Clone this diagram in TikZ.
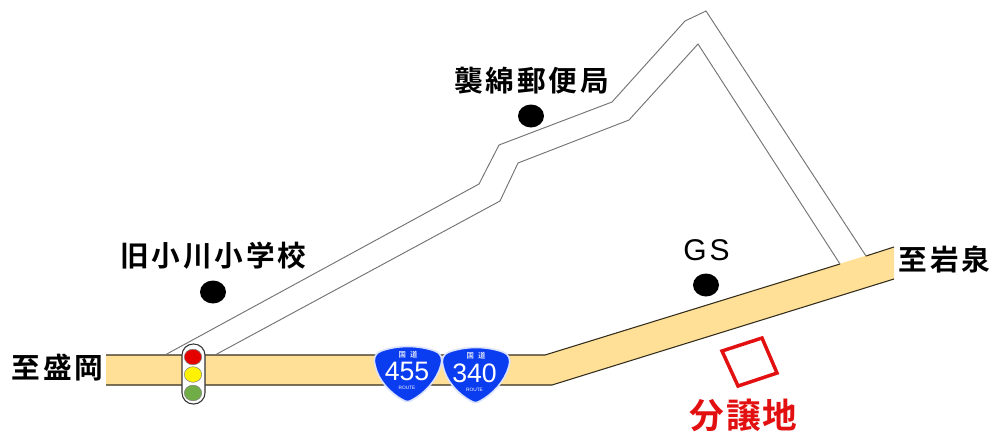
\documentclass[tikz,border=0pt]{standalone}
\usepackage{fontspec}
\setmainfont{Liberation Sans}
\newfontfamily\cjk[LetterSpace=10]{Noto Sans CJK JP Bold}
\newfontfamily\cjkb[LetterSpace=6]{Noto Sans CJK JP Bold}
\newfontfamily\cjks{Noto Sans CJK JP Medium}
\newfontfamily\latw[LetterSpace=10]{Liberation Sans}
\definecolor{roadfill}{RGB}{255,224,150}
\definecolor{shieldblue}{RGB}{10,60,240}
\definecolor{mapred}{RGB}{226,16,16}
\definecolor{siggreen}{RGB}{112,173,71}
\tikzset{
  x=0.75pt,y=-0.75pt,
  road/.style={draw=black!80!roadfill,line width=0.8pt},
  lane/.style={draw=black!55,line width=0.7pt},
  spot/.style={fill=black,draw=none},
  place/.style={inner sep=0pt,text=black,font=\cjk\fontsize{21.5pt}{23pt}\selectfont},
  shield/.style={fill=shieldblue,draw=white!85!shieldblue,line width=1.2pt},
  routenum/.style={inner sep=0pt,text=white,font=\fontsize{20pt}{21pt}\selectfont},
  routesmall/.style={inner sep=0pt,text=white,font=\fontsize{3.6pt}{4pt}\selectfont},
  routecjk/.style={inner sep=0pt,text=white,font=\cjks\fontsize{5.5pt}{6pt}\selectfont},
  lamp/.style={draw=black!50,line width=0.4pt},
}
\begin{document}
\begin{tikzpicture}
\useasboundingbox (0,0) rectangle (995,432);
\fill[white] (0,0) rectangle (995,432);
% national road
\fill[roadfill] (106,355) -- (545,355) -- (894,247) -- (894,279) -- (552,385) -- (106,385) -- cycle;
\draw[road] (106,355) -- (545,355) -- (840,264);
\draw[road] (866,256) -- (894,247);
\draw[road] (106,385) -- (552,385) -- (894,279);
% side road
\draw[lane] (165,355) -- (479,184) -- (499,145) -- (612,102) -- (685,21) -- (706,11) -- (866,256);
\draw[lane] (215,355) -- (500,201) -- (518,163) -- (629,120) -- (698,44) -- (840,264);
% spots
\fill[spot] (531,116) ellipse [x radius=13,y radius=11.5];
\fill[spot] (213,292) ellipse [x radius=13,y radius=11.5];
\fill[spot] (706,285) ellipse [x radius=13,y radius=11.5];
% signal
\draw[fill=white,line width=0.8pt,draw=black!80,rounded corners=8.4pt] (182,344) rectangle (205,404);
\fill[red!90!black,lamp] (193,357) ellipse [x radius=8.7,y radius=7.8];
\fill[yellow,lamp] (193,374.5) ellipse [x radius=8.7,y radius=7.8];
\fill[siggreen,lamp] (193,393) ellipse [x radius=8.7,y radius=7.8];
% shields
\draw[shield] (381,351) .. controls (398,345) and (418,345) .. (435,351) .. controls (441,353) and (443,359) .. (441,365) .. controls (437,380) and (425,393) .. (412,400) .. controls (409,402) and (406,402) .. (403,400) .. controls (390,393) and (378,380) .. (375,365) .. controls (373,359) and (375,353) .. (381,351) -- cycle;
\draw[shield] (449,352) .. controls (466,346) and (486,346) .. (503,352) .. controls (509,354) and (511,360) .. (509,366) .. controls (505,381) and (493,394) .. (480,401) .. controls (477,403) and (474,403) .. (471,401) .. controls (458,394) and (446,381) .. (443,366) .. controls (441,360) and (443,354) .. (449,352) -- cycle;
\node[routecjk] (kokua) at (408,354.5) {国\hspace{3pt}道};
\node[routenum] (n455) at (407,371.5) {455};
\node[routesmall] (ra) at (407,388) {ROUTE};
\node[routecjk] (kokub) at (476,356) {国\hspace{3pt}道};
\node[routenum] (n340) at (474.5,373) {340};
\node[routesmall] (rb) at (474.5,390) {ROUTE};
% red lot
\draw[draw=mapred,line width=2.6pt,line join=miter] (722,351) -- (762,338) -- (777,373) -- (738,386) -- cycle;
% labels
\node[place] (post) at (531.5,81) {襲綿郵便局};
\node[place] (school) at (213.5,256) {旧小川小学校};
\node[place] (morioka) at (57.5,368) {至盛岡};
\node[place] (iwaizumi) at (944.5,260) {至岩泉};
\node[inner sep=0pt,font=\latw\fontsize{22.5pt}{24pt}\selectfont] (gs) at (706.5,250) {GS};
\node[inner sep=0pt,text=mapred,font=\cjkb\fontsize{26pt}{28pt}\selectfont] (lot) at (743.5,415) {分譲地};
\end{tikzpicture}
\end{document}
